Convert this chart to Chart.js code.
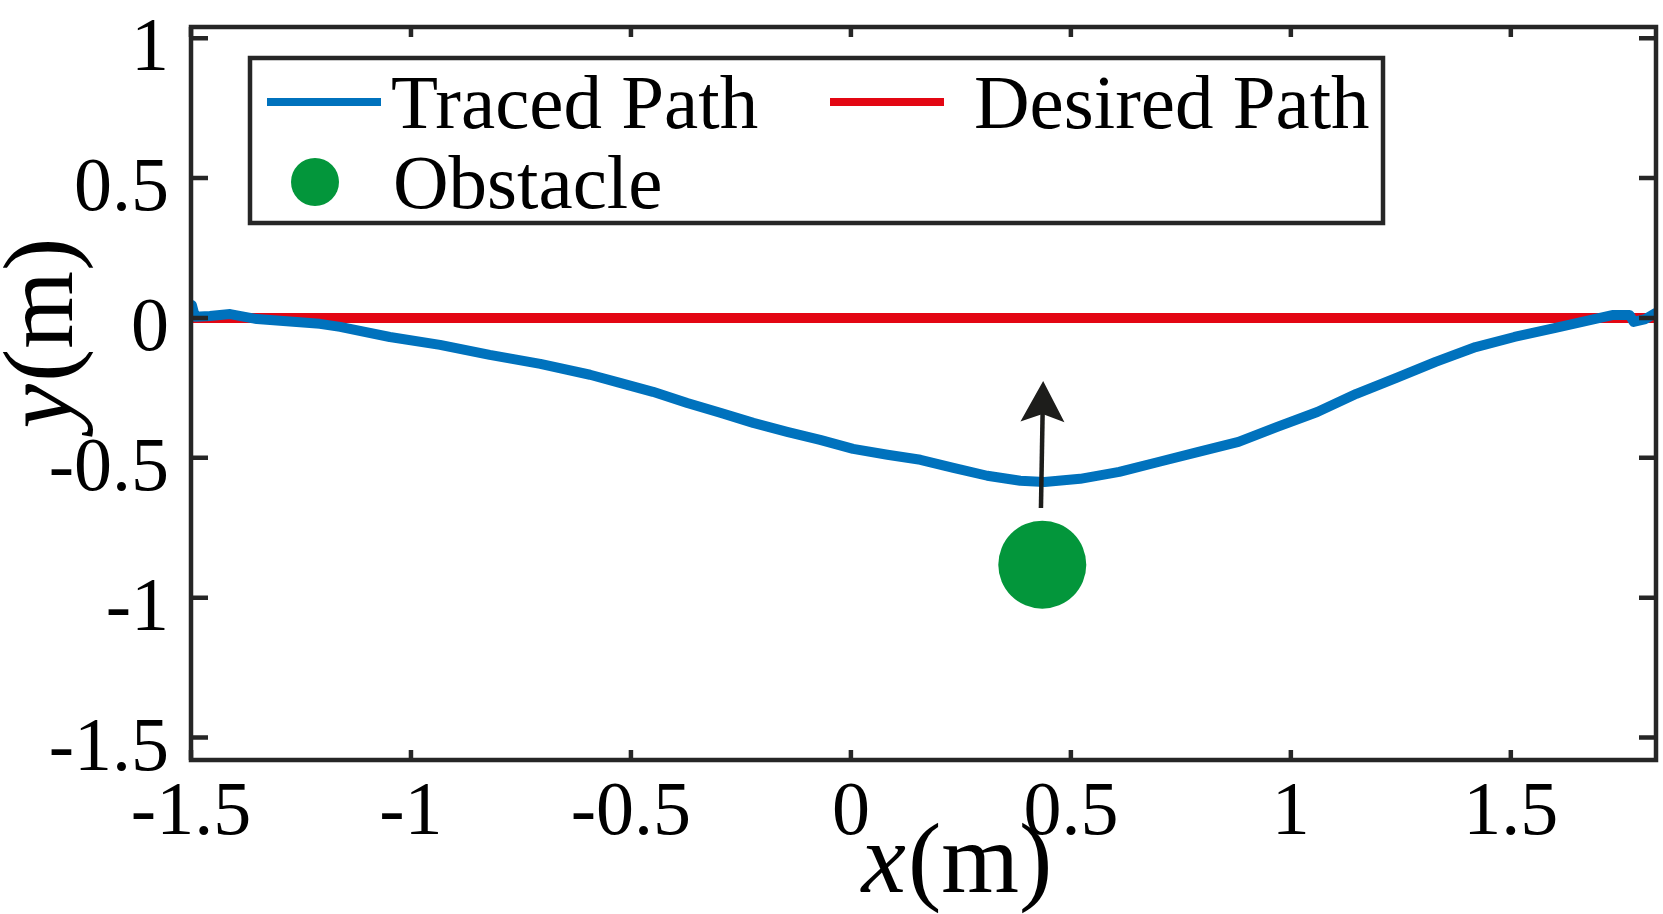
<!DOCTYPE html>
<html>
<head>
<meta charset="utf-8">
<script src="https://cdn.jsdelivr.net/npm/chart.js@4"></script>
<style>
  html, body { margin: 0; padding: 0; background: #fff; }
  #wrap { width: 1663px; height: 914px; position: relative; }
</style>
</head>
<body>
<div id="wrap"><canvas id="pathChart"></canvas></div>
<script>
// traced path (m)
const tracedX = [-1.498, -1.491, -1.457, -1.411, -1.35, -1.275, -1.207, -1.161, -1.048, -0.934,
  -0.821, -0.706, -0.593, -0.525, -0.450, -0.372, -0.297, -0.222, -0.145, -0.070,
  0.005, 0.083, 0.158, 0.233, 0.310, 0.385, 0.440, 0.521, 0.610, 0.701,
  0.790, 0.881, 0.969, 1.060, 1.149, 1.240, 1.329, 1.420, 1.508, 1.599,
  1.690, 1.733, 1.770, 1.779, 1.806, 1.829];
const tracedY = [0.046, 0.004, 0.007, 0.014, -0.004, -0.013, -0.021, -0.032, -0.068, -0.096,
  -0.132, -0.164, -0.203, -0.232, -0.264, -0.304, -0.339, -0.375, -0.407, -0.436,
  -0.468, -0.489, -0.507, -0.536, -0.564, -0.582, -0.586, -0.575, -0.550, -0.514,
  -0.479, -0.443, -0.389, -0.336, -0.271, -0.214, -0.157, -0.104, -0.068, -0.036,
  -0.004, 0.011, 0.011, -0.014, -0.004, 0.018];

const desiredX = [-1.5, 1.83];
const desiredY = [0, 0];

const obstacleX = [0.435];
const obstacleY = [-0.882];

// arrow from obstacle towards the path
const arrowX = [0.432, 0.437];
const arrowY = [-0.679, -0.225];

const seriesLabels = ['Traced Path', 'Desired Path', 'Obstacle'];

const xTicks = [-1.5, -1, -0.5, 0, 0.5, 1, 1.5];
const xTickLabels = ['-1.5', '-1', '-0.5', '0', '0.5', '1', '1.5'];
const yTicks = [-1.5, -1, -0.5, 0, 0.5, 1];
const yTickLabels = ['-1.5', '-1', '-0.5', '0', '0.5', '1'];

const BLUE = '#0072BD';
const RED = '#E30613';
const GREEN = '#03963B';
const INK = '#262626';
const SERIF = '"Liberation Serif", "Times New Roman", serif';

const toPts = (xs, ys) => xs.map((x, i) => ({ x: x, y: ys[i] }));

const noPad = s => {
  s.paddingTop = 0; s.paddingBottom = 0;
  s.paddingLeft = 0; s.paddingRight = 0;
};

// box + inward ticks on all four sides
const framePlugin = {
  id: 'frame',
  afterDatasetsDraw(chart) {
    const { ctx, chartArea: a, scales } = chart;
    ctx.save();
    ctx.strokeStyle = INK;
    ctx.lineWidth = 4.5;
    ctx.beginPath();
    xTicks.forEach(v => {
      const px = scales.x.getPixelForValue(v);
      ctx.moveTo(px, a.bottom); ctx.lineTo(px, a.bottom - 10);
      ctx.moveTo(px, a.top); ctx.lineTo(px, a.top + 10);
    });
    yTicks.forEach(v => {
      const py = scales.y.getPixelForValue(v);
      ctx.moveTo(a.left, py); ctx.lineTo(a.left + 17, py);
      ctx.moveTo(a.right, py); ctx.lineTo(a.right - 17, py);
    });
    ctx.stroke();
    ctx.strokeRect(a.left, a.top, a.right - a.left, a.bottom - a.top);
    ctx.restore();
  }
};

const arrowPlugin = {
  id: 'arrow',
  afterDatasetsDraw(chart) {
    const { ctx, scales } = chart;
    const x0 = scales.x.getPixelForValue(arrowX[0]), y0 = scales.y.getPixelForValue(arrowY[0]);
    const x1 = scales.x.getPixelForValue(arrowX[1]), y1 = scales.y.getPixelForValue(arrowY[1]);
    const ang = Math.atan2(y1 - y0, x1 - x0);
    const len = 41, half = 22, notch = 8;
    ctx.save();
    ctx.strokeStyle = '#1d1d1b';
    ctx.fillStyle = '#1d1d1b';
    ctx.lineWidth = 4.5;
    ctx.beginPath();
    ctx.moveTo(x0, y0);
    ctx.lineTo(x1 - Math.cos(ang) * (len - notch), y1 - Math.sin(ang) * (len - notch));
    ctx.stroke();
    ctx.translate(x1, y1);
    ctx.rotate(ang);
    ctx.beginPath();
    ctx.moveTo(0, 0);
    ctx.lineTo(-len, -half);
    ctx.lineTo(-len + notch, 0);
    ctx.lineTo(-len, half);
    ctx.closePath();
    ctx.fill();
    ctx.restore();
  }
};

const legendPlugin = {
  id: 'boxLegend',
  afterDraw(chart) {
    const { ctx } = chart;
    const ds = chart.data.datasets;
    ctx.save();
    ctx.fillStyle = '#fff';
    ctx.fillRect(250, 58, 1133, 165);
    ctx.strokeStyle = INK;
    ctx.lineWidth = 4.5;
    ctx.strokeRect(250, 58, 1133, 165);

    ctx.font = '77px ' + SERIF;
    ctx.fillStyle = '#000';
    ctx.textBaseline = 'alphabetic';
    ctx.textAlign = 'left';

    ctx.lineCap = 'butt';
    ctx.lineWidth = 8;
    ctx.strokeStyle = ds[0].borderColor;
    ctx.beginPath(); ctx.moveTo(267, 102); ctx.lineTo(381, 102); ctx.stroke();
    ctx.fillText(ds[0].label, 391, 128);

    ctx.strokeStyle = ds[1].borderColor;
    ctx.beginPath(); ctx.moveTo(830, 102); ctx.lineTo(944, 102); ctx.stroke();
    ctx.fillText(ds[1].label, 974, 128);

    ctx.fillStyle = ds[2].backgroundColor;
    ctx.beginPath(); ctx.arc(315, 182, 24, 0, Math.PI * 2); ctx.fill();
    ctx.fillStyle = '#000';
    ctx.fillText(ds[2].label, 393, 208);
    ctx.restore();
  }
};

// axis titles with italic variable names
const titlePlugin = {
  id: 'axisTitles',
  afterDraw(chart) {
    const { ctx } = chart;
    const drawTitle = (v, rest) => {
      ctx.font = 'italic 100px ' + SERIF;
      const w1 = ctx.measureText(v).width;
      ctx.font = '100px ' + SERIF;
      const w2 = ctx.measureText(rest).width;
      const start = -(w1 + w2) / 2;
      ctx.font = 'italic 100px ' + SERIF;
      ctx.fillText(v, start, 0);
      ctx.font = '100px ' + SERIF;
      ctx.fillText(rest, start + w1 + 2, 0);
    };
    ctx.save();
    ctx.fillStyle = '#000';
    ctx.textAlign = 'left';
    ctx.textBaseline = 'alphabetic';
    ctx.save();
    ctx.translate(956, 892);
    drawTitle('x', '(m)');
    ctx.restore();
    ctx.save();
    ctx.translate(72, 334);
    ctx.rotate(-Math.PI / 2);
    drawTitle('y', '(m)');
    ctx.restore();
    ctx.restore();
  }
};

new Chart(document.getElementById('pathChart'), {
  type: 'scatter',
  data: {
    datasets: [
      {
        label: seriesLabels[0],
        data: toPts(tracedX, tracedY),
        showLine: true,
        borderColor: BLUE,
        borderWidth: 10,
        borderCapStyle: 'round',
        borderJoinStyle: 'round',
        pointRadius: 0,
        tension: 0
      },
      {
        label: seriesLabels[1],
        data: toPts(desiredX, desiredY),
        showLine: true,
        borderColor: RED,
        borderWidth: 10,
        pointRadius: 0
      },
      {
        label: seriesLabels[2],
        data: toPts(obstacleX, obstacleY),
        backgroundColor: GREEN,
        borderWidth: 0,
        pointRadius: 44,
        pointHoverRadius: 44
      }
    ]
  },
  options: {
    responsive: true,
    maintainAspectRatio: false,
    animation: false,
    events: [],
    layout: { autoPadding: false, padding: { top: 27, right: 7, left: 0, bottom: 0 } },
    plugins: {
      legend: { display: false },
      tooltip: { enabled: false }
    },
    scales: {
      x: {
        type: 'linear',
        min: -1.5,
        max: 1.83,
        grid: { display: false },
        border: { display: false },
        afterBuildTicks: s => { s.ticks = xTicks.map(v => ({ value: v })); },
        afterFit: s => { s.height = 154; noPad(s); },
        ticks: {
          color: '#000',
          padding: 0,
          maxRotation: 0,
          autoSkip: false,
          font: { family: SERIF, size: 76, lineHeight: 1.2 },
          callback: v => xTickLabels[xTicks.indexOf(v)]
        }
      },
      y: {
        type: 'linear',
        min: -1.58,
        max: 1.04,
        grid: { display: false },
        border: { display: false },
        afterBuildTicks: s => { s.ticks = yTicks.map(v => ({ value: v })); },
        afterFit: s => { s.width = 191; noPad(s); },
        ticks: {
          color: '#000',
          padding: 14,
          labelOffset: 12,
          autoSkip: false,
          font: { family: SERIF, size: 76 },
          callback: v => yTickLabels[yTicks.indexOf(v)]
        }
      }
    }
  },
  plugins: [framePlugin, arrowPlugin, legendPlugin, titlePlugin]
});
</script>
</body>
</html>
